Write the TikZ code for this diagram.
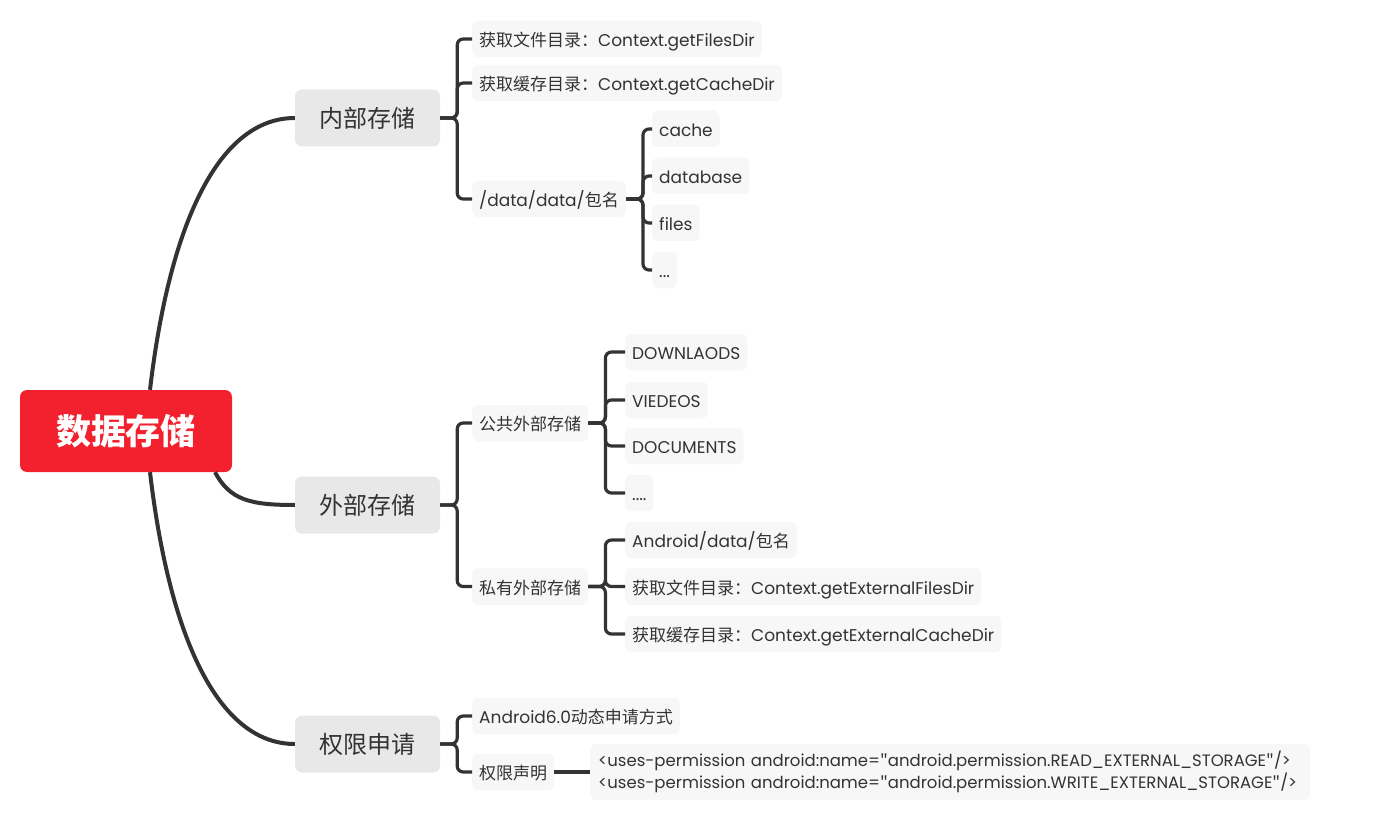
\documentclass[tikz,border=0pt]{standalone}
\usepackage{fontspec}
\setmainfont{Poppins}
\newfontfamily\cjk{Noto Sans CJK SC}

\definecolor{rootred}{HTML}{F3202E}
\definecolor{topicgray}{HTML}{E8E8E8}
\definecolor{leafgray}{HTML}{F7F7F7}
\definecolor{inkgray}{HTML}{333333}

\newcommand{\qt}{{\cjk"}}

\tikzset{
  root/.style={fill=rootred, rounded corners=7pt, minimum width=212pt, minimum height=82pt,
    text=white, font=\cjk\bfseries\fontsize{35}{40}\selectfont},
  topic/.style={fill=topicgray, rounded corners=7pt, minimum width=145pt, minimum height=57pt,
    text=inkgray, font=\cjk\fontsize{24}{28}\selectfont},
  leaf/.style={fill=leafgray, rounded corners=6pt, anchor=west, inner xsep=7pt, inner ysep=10pt,
    text height=16pt, text depth=0.5pt, text=inkgray, font=\fontsize{17}{20}\selectfont},
  codebox/.style={fill=leafgray, rounded corners=6pt, anchor=west, align=left, text width=704pt,
    inner xsep=8pt, inner ysep=7pt, text=inkgray, font=\fontsize{16.5}{22}\selectfont},
  trunk/.style={draw=inkgray, line width=4pt},
  twig/.style={draw=inkgray, line width=3.2pt, rounded corners=6pt},
}

\begin{document}
\begin{tikzpicture}[x=1pt, y=-1pt]
    \useasboundingbox (0,0) rectangle (1379,813);

    % centre and main topics
    \node[root] (store) at (126,431) {数据存储};
    \node[topic] (inner) at (367.5,118) {内部存储};
    \node[topic] (outer) at (367.5,505) {外部存储};
    \node[topic] (perm) at (367.5,744) {权限申请};

    \draw[trunk] ([xshift=24pt]store.north) .. controls (170,220) and (220,118) .. (inner.west);
    \draw[trunk] ([xshift=89pt]store.south) .. controls (230,500) and (250,505) .. (outer.west);
    \draw[trunk] ([xshift=24pt]store.south) .. controls (170,642) and (220,744) .. (perm.west);

    % internal storage
    \node[leaf] (filesdir) at (472,39) {{\cjk 获取文件目录：}Context.getFilesDir};
    \node[leaf] (cachedir) at (472,83) {{\cjk 获取缓存目录：}Context.getCacheDir};
    \node[leaf] (pkgdir) at (472,199) {/data/data/{\cjk 包名}};

    \node[leaf] (cache) at (652,129) {cache};
    \node[leaf] (database) at (652,176) {database};
    \node[leaf] (files) at (652,223) {files};
    \node[leaf] (pkgmore) at (652,270) {...};

    \foreach \kid in {filesdir,cachedir,pkgdir}
        \draw[twig] (inner.east) -- ++(17,0) |- (\kid.west);
    \foreach \kid in {cache,database,files,pkgmore}
        \draw[twig] (pkgdir.east) -- ++(17,0) |- (\kid.west);

    % external storage
    \node[leaf] (public) at (472,423) {\cjk 公共外部存储};
    \node[leaf] (private) at (472,586.5) {\cjk 私有外部存储};

    \node[leaf] (downloads) at (625,352) {DOWNLAODS};
    \node[leaf] (videos) at (625,400) {VIEDEOS};
    \node[leaf] (documents) at (625,446) {DOCUMENTS};
    \node[leaf] (pubmore) at (625,493) {....};

    \node[leaf] (appdir) at (625,540) {Android/data/{\cjk 包名}};
    \node[leaf] (extfiles) at (625,586.5) {{\cjk 获取文件目录：}Context.getExternalFilesDir};
    \node[leaf] (extcache) at (625,634) {{\cjk 获取缓存目录：}Context.getExternalCacheDir};

    \foreach \kid in {public,private}
        \draw[twig] (outer.east) -- ++(17,0) |- (\kid.west);
    \foreach \kid in {downloads,videos,documents,pubmore}
        \draw[twig] (public.east) -- ++(17,0) |- (\kid.west);
    \foreach \kid in {appdir,extfiles,extcache}
        \draw[twig] (private.east) -- ++(17,0) |- (\kid.west);

    % permissions
    \node[leaf] (runtime) at (472,716) {Android6.0{\cjk 动态申请方式}};
    \node[leaf] (declare) at (472,772) {\cjk 权限声明};
    \node[codebox] (manifest) at (590,772)
        {<uses-permission android:name=\qt android.permission.READ\_EXTERNAL\_STORAGE\qt/>\\
         <uses-permission android:name=\qt android.permission.WRITE\_EXTERNAL\_STORAGE\qt/>};

    \foreach \kid in {runtime,declare}
        \draw[twig] (perm.east) -- ++(17,0) |- (\kid.west);
    \draw[twig] (declare.east) -- (manifest.west);
\end{tikzpicture}
\end{document}
